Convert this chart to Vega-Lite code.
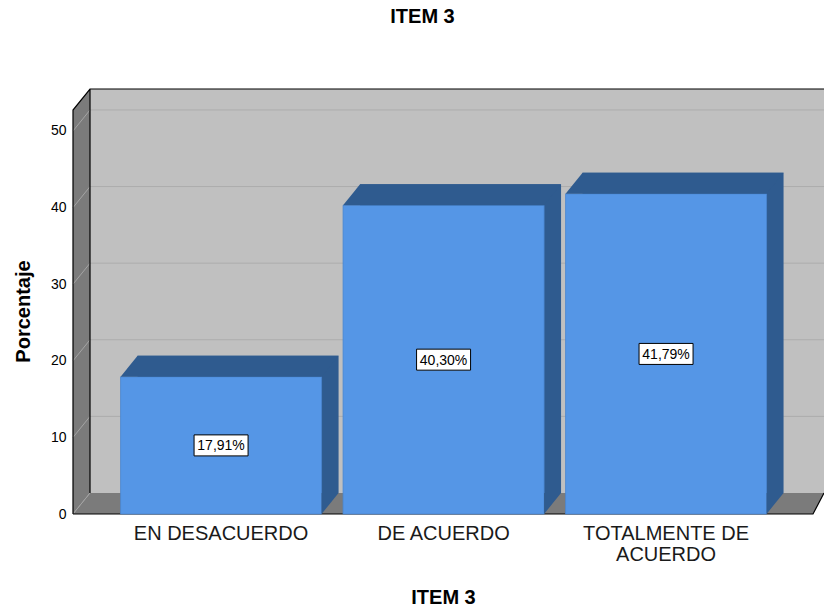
{
  "$schema": "https://vega.github.io/schema/vega-lite/v6.json",
  "width": 751,
  "height": 425,
  "autosize": {"type": "none"},
  "padding": {"left": 73, "top": 89, "right": 0, "bottom": 96},
  "background": "white",
  "title": {"text": "ITEM 3", "fontSize": 20, "fontWeight": "bold", "color": "black", "offset": 60, "anchor": "middle", "dx": -26},
  "config": {
    "font": "Liberation Sans",
    "view": {"stroke": null},
    "axis": {"grid": false, "ticks": false, "domain": false},
    "axisX": {"labelAngle": 0, "labelFontSize": 20, "labelColor": "#1a1a1a", "labelPadding": 9, "labelLineHeight": 21, "labelLimit": 400, "titleFontSize": 20, "titleFontWeight": "bold", "titleColor": "black", "titlePadding": 23, "titleX": 370},
    "axisY": {"labelFontSize": 14, "labelColor": "black", "labelPadding": 7, "titleFontSize": 20, "titleFontWeight": "bold", "titleColor": "black", "titlePadding": 17, "titleY": 222}
  },
  "data": {"values": [
    {"cat": "EN DESACUERDO", "value": 17.91},
    {"cat": "DE ACUERDO", "value": 40.30},
    {"cat": "TOTALMENTE DE ACUERDO", "value": 41.79}
  ]},
  "layer": [
    {
      "data": {"values": [{}]},
      "mark": {"type": "rect", "fill": "#c0c0c0", "yOffset": -21},
      "encoding": {
        "x": {"value": 17}, "x2": {"value": "width"},
        "y": {"datum": 0, "type": "quantitative", "scale": {"domain": [0, 55.48], "nice": false}},
        "y2": {"value": 0}
      }
    },
    {
      "data": {"values": [{}]},
      "mark": {"type": "point", "shape": "M0,0 L17,-21 L751,-21 L740,0 Z", "size": 4, "filled": true, "fill": "#7b7b7b", "strokeWidth": 0, "opacity": 1},
      "encoding": {"x": {"value": 0}, "y": {"datum": 0, "type": "quantitative", "scale": {"domain": [0, 55.48], "nice": false}}}
    },
    {
      "data": {"values": [{}]},
      "mark": {"type": "point", "shape": "M0,0 L0,-404 L17,-425 L17,-21 Z", "size": 4, "filled": true, "fill": "#7b7b7b", "strokeWidth": 0, "opacity": 1},
      "encoding": {"x": {"value": 0}, "y": {"datum": 0, "type": "quantitative", "scale": {"domain": [0, 55.48], "nice": false}}}
    },
    {
      "data": {"values": [{"g": 10}, {"g": 20}, {"g": 30}, {"g": 40}, {"g": 50}]},
      "mark": {"type": "rule", "color": "#acacac", "strokeWidth": 1, "yOffset": -21},
      "encoding": {
        "y": {"field": "g", "type": "quantitative", "title": "Porcentaje", "scale": {"domain": [0, 55.48], "nice": false}},
        "x": {"value": 17}, "x2": {"value": "width"}
      }
    },
    {
      "data": {"values": [{"g": 0}, {"g": 10}, {"g": 20}, {"g": 30}, {"g": 40}, {"g": 50}]},
      "mark": {"type": "rule", "color": "#a4a4a4", "strokeWidth": 1, "y2Offset": -21},
      "encoding": {
        "y": {"field": "g", "type": "quantitative", "title": "Porcentaje", "scale": {"domain": [0, 55.48], "nice": false}},
        "y2": {"field": "g"},
        "x": {"value": 0}, "x2": {"value": 17}
      }
    },
    {
      "data": {"values": [{}]},
      "mark": {"type": "point", "shape": "M0,0 L0,-404 L17,-425 L751,-425 M17,-425 L17,-21 M0,0 L740,0 L751,-21", "size": 4, "filled": false, "stroke": "black", "strokeWidth": 1.2, "opacity": 1},
      "encoding": {"x": {"value": 0}, "y": {"datum": 0, "type": "quantitative", "scale": {"domain": [0, 55.48], "nice": false}}}
    },
    {
      "mark": {"type": "bar", "fill": "#2f5b8f", "xOffset": 17, "x2Offset": 17, "yOffset": -21, "y2Offset": -21},
      "encoding": {
        "x": {"field": "cat", "type": "nominal", "sort": null, "title": "ITEM 3", "scale": {"paddingInner": 0.0966, "paddingOuter": 0.236, "align": 0.453}},
        "y": {"field": "value", "type": "quantitative", "title": "Porcentaje", "scale": {"domain": [0, 55.48], "nice": false}}
      }
    },
    {
      "mark": {"type": "bar", "fill": "#5596e6", "stroke": "#4a85cf", "strokeWidth": 0.8},
      "encoding": {
        "x": {"field": "cat", "type": "nominal", "sort": null, "title": "ITEM 3", "scale": {"paddingInner": 0.0966, "paddingOuter": 0.236, "align": 0.453},
              "axis": {"labelExpr": "datum.label == 'TOTALMENTE DE ACUERDO' ? ['TOTALMENTE DE', 'ACUERDO'] : datum.label"}},
        "y": {"field": "value", "type": "quantitative", "title": "Porcentaje", "scale": {"domain": [0, 55.48], "nice": false},
              "axis": {"values": [0, 10, 20, 30, 40, 50]}}
      }
    },
    {
      "mark": {"type": "point", "shape": "M0,0 L17,-21 L218,-21 L201,0 Z", "size": 4, "filled": true, "fill": "#2f5b8f", "strokeWidth": 0, "opacity": 1},
      "encoding": {
        "x": {"field": "cat", "type": "nominal", "sort": null, "title": "ITEM 3", "bandPosition": 0, "scale": {"paddingInner": 0.0966, "paddingOuter": 0.236, "align": 0.453}},
        "y": {"field": "value", "type": "quantitative", "title": "Porcentaje", "scale": {"domain": [0, 55.48], "nice": false}}
      }
    },
    {
      "mark": {"type": "point", "shape": "M0,0 L0,-21 L17,-21 Z", "size": 4, "filled": true, "fill": "#2f5b8f", "strokeWidth": 0, "opacity": 1},
      "encoding": {
        "x": {"field": "cat", "type": "nominal", "sort": null, "title": "ITEM 3", "bandPosition": 1, "scale": {"paddingInner": 0.0966, "paddingOuter": 0.236, "align": 0.453}},
        "y": {"datum": 0, "type": "quantitative", "scale": {"domain": [0, 55.48], "nice": false}}
      }
    },
    {
      "transform": [{"calculate": "datum.value / 2", "as": "mid"}],
      "mark": {"type": "point", "shape": "M-27,-10.5 L27,-10.5 L27,10.5 L-27,10.5 Z", "size": 4, "filled": true, "fill": "white", "stroke": "black", "strokeWidth": 1, "opacity": 1},
      "encoding": {
        "x": {"field": "cat", "type": "nominal", "sort": null, "title": "ITEM 3", "scale": {"paddingInner": 0.0966, "paddingOuter": 0.236, "align": 0.453}},
        "y": {"field": "mid", "type": "quantitative", "title": "Porcentaje", "scale": {"domain": [0, 55.48], "nice": false}}
      }
    },
    {
      "transform": [
        {"calculate": "datum.value / 2", "as": "mid"},
        {"calculate": "replace(format(datum.value, '.2f'), '.', ',') + '%'", "as": "lbl"}
      ],
      "mark": {"type": "text", "fontSize": 14, "color": "black", "align": "center", "baseline": "middle", "dy": 1},
      "encoding": {
        "x": {"field": "cat", "type": "nominal", "sort": null, "title": "ITEM 3", "scale": {"paddingInner": 0.0966, "paddingOuter": 0.236, "align": 0.453}},
        "y": {"field": "mid", "type": "quantitative", "title": "Porcentaje", "scale": {"domain": [0, 55.48], "nice": false}},
        "text": {"field": "lbl"}
      }
    }
  ]
}
